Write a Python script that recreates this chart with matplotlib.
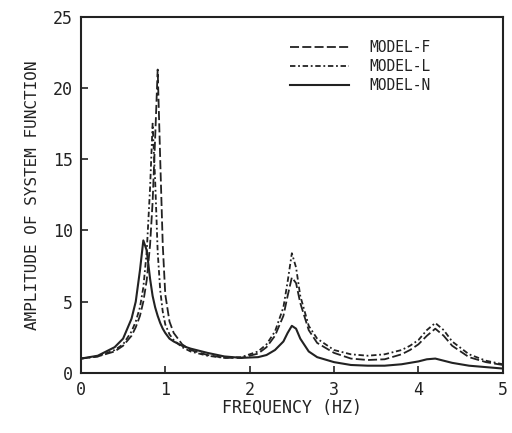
import matplotlib
matplotlib.use("Agg")
import matplotlib.pyplot as plt

freq = [0, 0.2, 0.4, 0.5, 0.6, 0.65, 0.7, 0.74, 0.78, 0.82, 0.85, 0.88, 0.91, 0.94, 0.97,
        1.0, 1.05, 1.1, 1.2, 1.3, 1.5, 1.7, 1.9, 2.1, 2.2, 2.3, 2.4, 2.45, 2.5, 2.55, 2.6,
        2.7, 2.8, 3.0, 3.2, 3.4, 3.6, 3.8, 3.9, 4.0, 4.1, 4.2, 4.3, 4.4, 4.6, 4.8, 5.0]

model_f = [1.0, 1.15, 1.5, 1.9, 2.6, 3.2, 4.0, 5.0, 6.5, 9.0, 12.0, 16.5, 21.3, 15.0, 9.0,
           5.5, 3.6, 2.8, 2.0, 1.6, 1.25, 1.05, 1.05, 1.35, 1.8, 2.6, 4.0, 5.4, 6.7, 6.3, 4.9,
           3.0, 2.1, 1.4, 1.0, 0.9, 0.95, 1.3, 1.6, 2.0, 2.6, 3.1, 2.6, 1.9, 1.1, 0.75, 0.55]

model_l = [1.0, 1.15, 1.6, 2.0, 2.9, 3.6, 4.6, 6.0, 8.5, 13.0, 17.5, 13.5, 8.5, 5.8, 4.3,
           3.4, 2.7, 2.3, 1.8, 1.5, 1.2, 1.05, 1.1, 1.5, 2.0, 2.9, 4.6, 6.4, 8.4, 7.4, 5.4,
           3.3, 2.4, 1.6, 1.3, 1.2, 1.3, 1.6, 1.9, 2.3, 3.0, 3.5, 3.0, 2.2, 1.3, 0.85, 0.6]

model_n = [1.0, 1.2, 1.8, 2.4, 3.8, 5.0, 7.2, 9.3, 8.6, 6.6, 5.4, 4.6, 4.0, 3.5, 3.1,
           2.8, 2.4, 2.2, 1.9, 1.7, 1.4, 1.15, 1.05, 1.1, 1.25, 1.6, 2.2, 2.8, 3.3, 3.1, 2.4,
           1.5, 1.1, 0.75, 0.55, 0.5, 0.5, 0.6, 0.7, 0.8, 0.95, 1.0, 0.85, 0.7, 0.5, 0.4, 0.3]

x_ticks = [0, 1, 2, 3, 4, 5]
y_ticks = [0, 5, 10, 15, 20, 25]

FONT = "DejaVu Sans Mono"

fig = plt.figure(figsize=(5.12, 4.33), dpi=100)
ax = fig.add_axes([0.158, 0.139, 0.824, 0.822])

ax.plot(freq, model_f, color="#222222", lw=1.3, linestyle=(0, (5, 1.8)), label="MODEL-F")
ax.plot(freq, model_l, color="#222222", lw=1.3, linestyle=(0, (3, 1.5, 1, 1.5)), label="MODEL-L")
ax.plot(freq, model_n, color="#222222", lw=1.5, linestyle="-", label="MODEL-N")

ax.set_xlim(0, 5)
ax.set_ylim(0, 25)
ax.set_xticks(x_ticks)
ax.set_yticks(y_ticks)
ax.set_xticklabels([str(t) for t in x_ticks], fontfamily=FONT, fontsize=12)
ax.set_yticklabels([str(t) for t in y_ticks], fontfamily=FONT, fontsize=12)
ax.tick_params(direction="in", length=5, width=1.2, pad=6, colors="#222222")
for s in ax.spines.values():
    s.set_linewidth(1.5)
    s.set_color("#222222")

ax.set_xlabel("FREQUENCY (HZ)", fontfamily=FONT, fontsize=12, color="#222222", labelpad=0)
ax.set_ylabel("AMPLITUDE OF SYSTEM FUNCTION", fontfamily=FONT, fontsize=11.5, color="#222222", labelpad=9)

leg = ax.legend(loc="upper left", bbox_to_anchor=(0.465, 0.972), frameon=False,
                prop={"family": FONT, "size": 10.5}, handlelength=4.0, handletextpad=1.4,
                labelspacing=0.28)
for t in leg.get_texts():
    t.set_color("#222222")

fig.savefig("out.png", dpi=100)
